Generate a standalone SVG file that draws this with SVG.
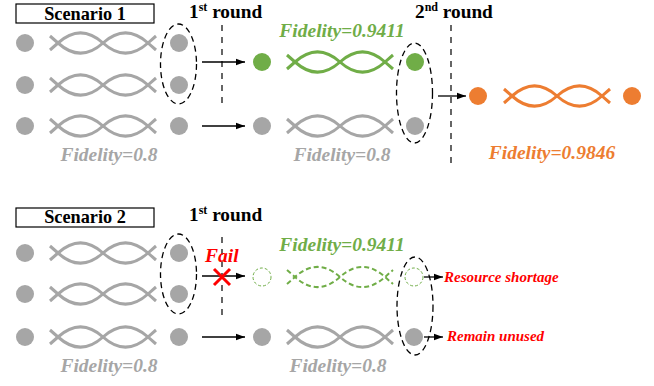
<svg xmlns="http://www.w3.org/2000/svg" xmlns:xlink="http://www.w3.org/1999/xlink" width="654" height="386" viewBox="0 0 654 386" font-family="'Liberation Serif', 'DejaVu Serif', serif">
<style>
.t{font-weight:bold}
.h{font-size:18.3px;fill:#000}
.rd{font-size:19.3px;fill:#000}
.f{font-size:19.5px;font-style:italic}
.r{font-size:15px;font-style:italic;fill:#ff0000}
.gray{fill:#a6a6a6}
.green{fill:#70ad47}
.orange{fill:#ed7d31}
.ell{fill:none;stroke:#000;stroke-width:1.3;stroke-dasharray:6 4}
.vl{fill:none;stroke:#000;stroke-width:1.2;stroke-dasharray:6 6}
.ar{fill:none;stroke:#000;stroke-width:1.3;marker-end:url(#ah)}
</style>
<defs>
<marker id="ah" viewBox="0 0 10 10" refX="10" refY="5" markerWidth="9" markerHeight="9" markerUnits="userSpaceOnUse" orient="auto">
<path d="M0,1.5 L10,5 L0,8.5 Z" fill="#000"/>
</marker>
<g id="braid" fill="none" stroke-linecap="butt">
<path d="M-8,7 L0,0 C15,-13.5 30,-13.5 45,0 C60,13.5 75,13.5 90,0 L98,-7"/>
<path d="M-8,-7 L0,0 C15,13.5 30,13.5 45,0 C60,-13.5 75,-13.5 90,0 L98,7"/>
</g>
</defs>

<g id="connectors">
<line class="vl" x1="222" y1="25" x2="222" y2="107"/>
<line class="vl" x1="451" y1="25" x2="451" y2="165"/>
<line class="vl" x1="222" y1="237" x2="222" y2="318"/>
<line class="ar" x1="202" y1="62" x2="245" y2="62"/>
<line class="ar" x1="202" y1="126" x2="245" y2="126"/>
<line class="ar" x1="438" y1="96" x2="466" y2="96"/>
<line class="ar" x1="202" y1="276" x2="245" y2="276"/>
<line class="ar" x1="202" y1="337" x2="245" y2="337"/>
<line class="ar" x1="424" y1="277" x2="443" y2="277"/>
<line class="ar" x1="424" y1="337" x2="443" y2="337"/>
</g>

<g id="scenario1">
<g id="s1-title">
<rect x="16" y="4" width="138" height="19" fill="#fff" stroke="#000" stroke-width="1.2"/>
<text class="t h" x="85" y="19.5" text-anchor="middle">Scenario 1</text>
</g>
<text id="s1-round1" class="t rd" x="189" y="18">1<tspan font-size="12" dy="-7">st</tspan><tspan dy="7"> round</tspan></text>
<text id="s1-round2" class="t rd" x="415" y="18">2<tspan font-size="12" dy="-7">nd</tspan><tspan dy="7"> round</tspan></text>

<g id="s1-row1">
<circle class="gray" cx="25" cy="43" r="9"/>
<use xlink:href="#braid" transform="translate(58,43)" stroke="#a6a6a6" stroke-width="3"/>
<circle class="gray" cx="179" cy="43" r="9"/>
</g>
<g id="s1-row2">
<circle class="gray" cx="25" cy="85" r="9"/>
<use xlink:href="#braid" transform="translate(58,85)" stroke="#a6a6a6" stroke-width="3"/>
<circle class="gray" cx="179" cy="85" r="9"/>
</g>
<g id="s1-row3">
<circle class="gray" cx="25" cy="126" r="9"/>
<use xlink:href="#braid" transform="translate(58,126)" stroke="#a6a6a6" stroke-width="3"/>
<circle class="gray" cx="179" cy="126" r="9"/>
</g>
<ellipse id="s1-ell1" class="ell" cx="178.5" cy="64" rx="18" ry="40"/>
<text class="t f gray" x="109" y="161" text-anchor="middle">Fidelity=0.8</text>

<g id="s1-green">
<circle class="green" cx="262" cy="62" r="9"/>
<use xlink:href="#braid" transform="translate(295,62)" stroke="#70ad47" stroke-width="3"/>
<circle class="green" cx="415" cy="62" r="9"/>
<text class="t f green" x="342" y="37" text-anchor="middle">Fidelity=0.9411</text>
</g>
<g id="s1-gray2">
<circle class="gray" cx="262" cy="126" r="9"/>
<use xlink:href="#braid" transform="translate(295,126)" stroke="#a6a6a6" stroke-width="3"/>
<circle class="gray" cx="415" cy="126" r="9"/>
<text class="t f gray" x="342" y="161" text-anchor="middle">Fidelity=0.8</text>
</g>
<ellipse id="s1-ell2" class="ell" cx="414.5" cy="93" rx="18" ry="50"/>

<g id="s1-orange">
<circle class="orange" cx="478" cy="96" r="9"/>
<use xlink:href="#braid" transform="translate(512,96)" stroke="#ed7d31" stroke-width="3"/>
<circle class="orange" cx="632" cy="96" r="9"/>
<text class="t f orange" x="552" y="159" text-anchor="middle">Fidelity=0.9846</text>
</g>
</g>

<g id="scenario2">
<g id="s2-title">
<rect x="16" y="208" width="138" height="19" fill="#fff" stroke="#000" stroke-width="1.2"/>
<text class="t h" x="85" y="223" text-anchor="middle">Scenario 2</text>
</g>
<text id="s2-round1" class="t rd" x="189" y="221">1<tspan font-size="12" dy="-7">st</tspan><tspan dy="7"> round</tspan></text>

<g id="s2-row1">
<circle class="gray" cx="25" cy="253" r="9"/>
<use xlink:href="#braid" transform="translate(58,253)" stroke="#a6a6a6" stroke-width="3"/>
<circle class="gray" cx="179" cy="253" r="9"/>
</g>
<g id="s2-row2">
<circle class="gray" cx="25" cy="294" r="9"/>
<use xlink:href="#braid" transform="translate(58,294)" stroke="#a6a6a6" stroke-width="3"/>
<circle class="gray" cx="179" cy="294" r="9"/>
</g>
<g id="s2-row3">
<circle class="gray" cx="25" cy="337" r="9"/>
<use xlink:href="#braid" transform="translate(58,337)" stroke="#a6a6a6" stroke-width="3"/>
<circle class="gray" cx="179" cy="337" r="9"/>
</g>
<ellipse id="s2-ell1" class="ell" cx="178.5" cy="274" rx="18" ry="40"/>
<text class="t f gray" x="109" y="372" text-anchor="middle">Fidelity=0.8</text>

<g id="s2-fail">
<path d="M214,269 L230,285 M230,269 L214,285" stroke="#ff0000" stroke-width="3" fill="none"/>
<text class="t f" x="205" y="262" font-size="20px" fill="#ff0000">Fail</text>
</g>

<g id="s2-green">
<circle cx="262" cy="277" r="9" fill="none" stroke="#70ad47" stroke-width="1" stroke-dasharray="3 2"/>
<use xlink:href="#braid" transform="translate(295,277)" stroke="#70ad47" stroke-width="2" stroke-dasharray="5 3"/>
<circle cx="414" cy="277" r="9" fill="none" stroke="#70ad47" stroke-width="1" stroke-dasharray="3 2"/>
<text class="t f green" x="342" y="251" text-anchor="middle">Fidelity=0.9411</text>
</g>
<g id="s2-gray2">
<circle class="gray" cx="262" cy="337" r="9"/>
<use xlink:href="#braid" transform="translate(295,337)" stroke="#a6a6a6" stroke-width="3"/>
<circle class="gray" cx="414" cy="337" r="9"/>
<text class="t f gray" x="338" y="372" text-anchor="middle">Fidelity=0.8</text>
</g>
<ellipse id="s2-ell2" class="ell" cx="415" cy="306" rx="18" ry="49"/>
<text id="s2-shortage" class="t r" x="444" y="282">Resource shortage</text>
<text id="s2-unused" class="t r" x="447" y="341">Remain unused</text>
</g>
</svg>
